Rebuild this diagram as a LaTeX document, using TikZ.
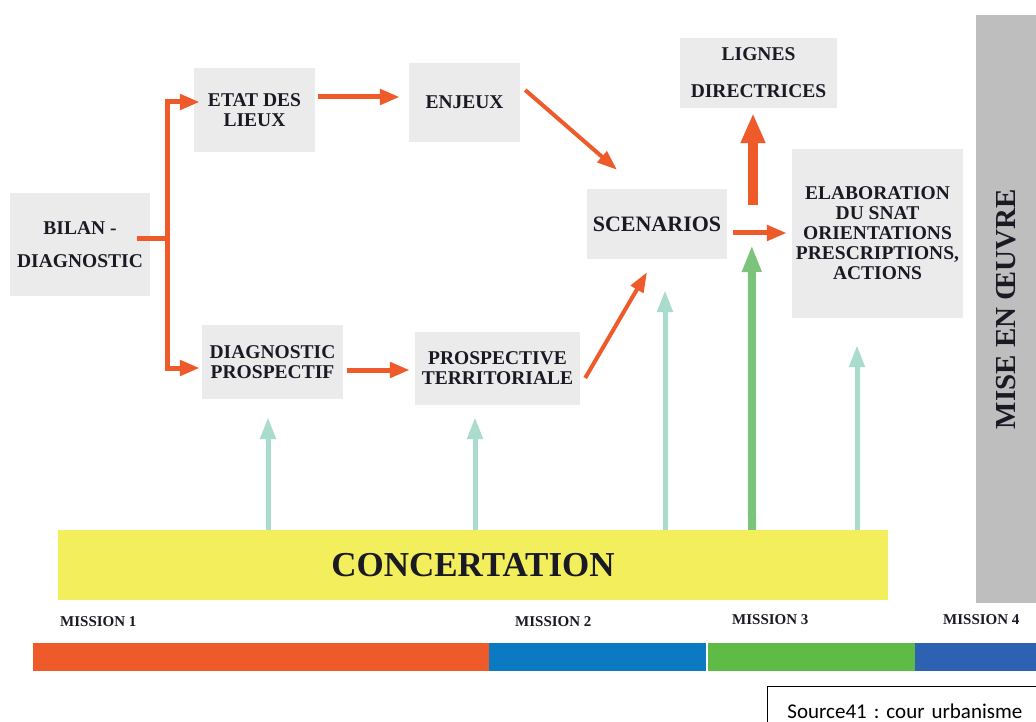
\documentclass[tikz,border=0pt]{standalone}
\usepackage{fontspec}
\setmainfont{Liberation Serif}
\newfontfamily\srcfont{Carlito}
\usetikzlibrary{arrows.meta}
\definecolor{boxgray}{HTML}{EBEBEB}
\definecolor{orng}{HTML}{EF5A2B}
\definecolor{mblue}{HTML}{0B7AC3}
\definecolor{mgreen}{HTML}{5DBB46}
\definecolor{mdblue}{HTML}{2D62B3}
\definecolor{yell}{HTML}{F3EE5B}
\definecolor{mint}{HTML}{A9DCCC}
\definecolor{dgreen}{HTML}{7CC47C}
\definecolor{barg}{HTML}{BEBEBE}
\definecolor{txt}{HTML}{1A1A24}
\begin{document}
\frenchspacing
\begin{tikzpicture}[x=1pt,y=-1pt,
  box/.style={fill=boxgray, inner sep=0pt, align=center, text=txt,
    font=\bfseries\fontsize{19.5}{20}\selectfont},
  oline/.style={draw=orng, line width=5pt},
  oarr/.style={draw=orng, line width=5pt, -{Triangle[length=20pt,width=15pt]}},
  odiag/.style={draw=orng, line width=4pt, -{Triangle[length=20pt,width=14pt]}},
  obig/.style={draw=orng, line width=10pt, -{Triangle[length=30pt,width=23pt]}},
  garr/.style={draw=mint, line width=5pt, -{Triangle[length=22pt,width=15pt]}},
  gdarr/.style={draw=dgreen, line width=8pt, -{Triangle[length=27pt,width=18pt]}},
  mlabel/.style={anchor=base west, inner sep=0pt, text=txt,
    font=\bfseries\fontsize{15}{15}\selectfont}
]
\useasboundingbox (0,0) rectangle (1036,722);
\fill[white] (0,0) rectangle (1036,722);

% boxes
\node[box, minimum width=140pt, minimum height=103pt] (bilan) at (80,244.5) {BILAN -\\[13pt]DIAGNOSTIC};
\node[box, minimum width=121pt, minimum height=84pt] (etat) at (254.5,110) {ETAT DES\\LIEUX};
\node[box, minimum width=111pt, minimum height=79pt] (enjeux) at (464.5,102.5) {ENJEUX};
\node[box, minimum width=141pt, minimum height=74pt] (diag) at (272.5,362) {DIAGNOSTIC\\PROSPECTIF};
\node[box, minimum width=165pt, minimum height=73pt] (prosp) at (497.5,368.5) {PROSPECTIVE\\TERRITORIALE};
\node[box, minimum width=140pt, minimum height=70pt, font=\bfseries\fontsize{22}{24}\selectfont] (scen) at (657,224) {SCENARIOS};
\node[box, minimum width=157pt, minimum height=70pt] (lignes) at (758.5,73) {LIGNES\\[17pt]DIRECTRICES};
\node[box, minimum width=171pt, minimum height=169pt] (elab) at (877.5,233.5) {ELABORATION\\DU SNAT\\ORIENTATIONS\\PRESCRIPTIONS,\\ACTIONS};
\node[fill=barg, inner sep=0pt, minimum width=588pt, minimum height=61pt, rotate=90, text=txt,
  font=\bfseries\fontsize{29}{30}\selectfont] (mise) at (1006,309) {MISE EN ŒUVRE};
\node[fill=yell, inner sep=0pt, minimum width=830pt, minimum height=70pt, text=txt,
  font=\bfseries\fontsize{35}{36}\selectfont] (concert) at (473,565) {CONCERTATION};

% orange connectors
\coordinate (split) at (167,239);
\draw[oline] ([xshift=-13pt,yshift=5.5pt]bilan.east) -- (split);
\draw[oarr] (split) |- ([xshift=6pt,yshift=8pt]etat.west);
\draw[oarr] (split) |- ([xshift=-2pt,yshift=-6pt]diag.west);
\draw[oarr] ([xshift=3pt,yshift=13pt]etat.east) -- ([xshift=-9pt,yshift=5.5pt]enjeux.west);
\draw[oarr] ([xshift=4pt,yshift=-8pt]diag.east) -- ([xshift=-5pt,yshift=-1.5pt]prosp.west);
\draw[odiag] ([xshift=5pt,yshift=12.5pt]enjeux.east) -- ([xshift=-40pt,yshift=19pt]scen.north);
\draw[odiag] ([xshift=5pt,yshift=-9.5pt]prosp.east) -- ([xshift=-10pt,yshift=-13pt]scen.south);
\draw[oarr] ([xshift=6pt,yshift=-9pt]scen.east) -- ([xshift=-5pt,yshift=0.5pt]elab.west);
\coordinate (lstart) at (753,205);
\draw[obig] (lstart) -- ([xshift=-5.5pt,yshift=-5pt]lignes.south);

% green arrows from concertation
\draw[garr] ([xshift=-205pt]concert.north) -- ([xshift=-4.5pt,yshift=-18pt]diag.south);
\draw[garr] ([xshift=2pt]concert.north) -- ([xshift=-22.5pt,yshift=-12pt]prosp.south);
\draw[garr] ([xshift=192pt]concert.north) -- ([xshift=8pt,yshift=-31pt]scen.south);
\draw[gdarr] ([xshift=279pt]concert.north) -- ([xshift=-40pt,yshift=-11.5pt]elab.west);
\draw[garr] ([xshift=384pt]concert.north) -- ([xshift=-20.5pt,yshift=-27pt]elab.south);

% missions
\node[mlabel] (m1) at (60,626) {MISSION 1};
\node[mlabel] (m2) at (515,626) {MISSION 2};
\node[mlabel] (m3) at (732,624) {MISSION 3};
\node[mlabel] (m4) at (943,624) {MISSION 4};
\fill[orng] (33,643) rectangle (489,671);
\fill[mblue] (489,643) rectangle (706,671);
\fill[mgreen] (708,643) rectangle (915,671);
\fill[mdblue] (915,643) rectangle (1036,671);

% source
\node[draw=black, line width=0.9pt, anchor=north west, inner xsep=20pt, inner ysep=0pt,
  text width=260pt, minimum height=50pt, align=left,
  font=\srcfont\fontsize{21}{22}\selectfont] (src) at (767,686) {Source41 : cour urbanisme};
\end{tikzpicture}
\end{document}
